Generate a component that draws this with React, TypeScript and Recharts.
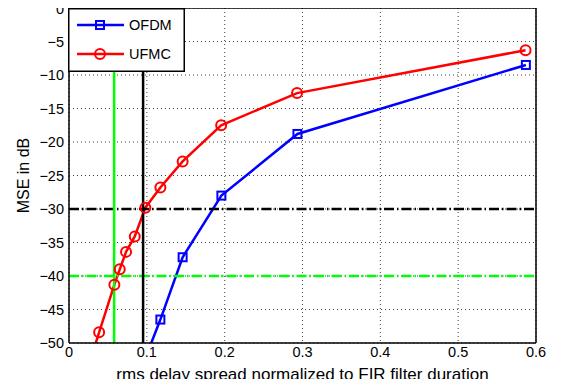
import {
  CartesianGrid,
  Label,
  Legend,
  Line,
  LineChart,
  ReferenceLine,
  XAxis,
  YAxis,
} from "recharts";

const xTicks = [0, 0.1, 0.2, 0.3, 0.4, 0.5, 0.6];
const yTicks = [-50, -45, -40, -35, -30, -25, -20, -15, -10, -5, 0];

// normalized rms delay spread
const ofdmX = [0.098, 0.1174, 0.146, 0.1958, 0.2935, 0.587];
const ofdmMse = [-52.3, -46.5, -37.2, -28.0, -18.8, -8.5];

const ufmcX = [0.03, 0.0387, 0.0583, 0.0652, 0.0733, 0.0845, 0.0981, 0.1174, 0.146, 0.1955, 0.293, 0.5866];
const ufmcMse = [-51.6, -48.4, -41.3, -39.0, -36.4, -34.1, -29.8, -26.8, -22.9, -17.5, -12.7, -6.3];

const targetMse = [-30, -40];
const targetSpread = [0.0952, 0.058];

const ofdmData = ofdmX.map((x, i) => ({ x, y: ofdmMse[i] }));
const ufmcData = ufmcX.map((x, i) => ({ x, y: ufmcMse[i] }));

const FONT = "'Liberation Sans', Arial, Helvetica, sans-serif";

const fmtY = (v: number) => (v < 0 ? "\u2212" + Math.abs(v) : String(v));
const fmtX = (v: number) => (v === 0 ? "0" : String(v));

const SquareDot = (props: any) => {
  const { cx, cy } = props;
  if (cx == null || cy == null) return null;
  return (
    <rect x={cx - 4} y={cy - 4} width={8} height={8} fill="none" stroke="#0000ff" strokeWidth={2} />
  );
};

const CircleDot = (props: any) => {
  const { cx, cy } = props;
  if (cx == null || cy == null) return null;
  return <circle cx={cx} cy={cy} r={5} fill="none" stroke="#ff0000" strokeWidth={2} />;
};

const XTick = (props: any) => {
  const { x, y, payload } = props;
  return (
    <text x={x} y={y + 10} textAnchor="middle" fontSize={14.5} fontFamily={FONT} fill="#000">
      {fmtX(payload.value)}
    </text>
  );
};

const XTitle = (props: any) => {
  const vb = props.viewBox;
  return (
    <text x={vb.x + vb.width / 2} y={vb.y + vb.height - 7} textAnchor="middle" fontSize={17} fontFamily={FONT} fill="#000">
      rms delay spread normalized to FIR filter duration
    </text>
  );
};

function LegendBox() {
  return (
    <svg width={117} height={64} style={{ display: "block", background: "#fff" }}>
      <rect x={0.75} y={0.75} width={115.5} height={62.5} fill="#fff" stroke="#000" strokeWidth={1.5} />
      <line x1={9} y1={17} x2={56} y2={17} stroke="#0000ff" strokeWidth={2.5} />
      <rect x={28} y={13} width={8} height={8} fill="none" stroke="#0000ff" strokeWidth={2} />
      <text x={61} y={22} fontSize={14.5} fontFamily={FONT} fill="#000">OFDM</text>
      <line x1={9} y1={46} x2={56} y2={46} stroke="#ff0000" strokeWidth={2.5} />
      <circle cx={32} cy={46} r={5} fill="none" stroke="#ff0000" strokeWidth={2} />
      <text x={61} y={51} fontSize={14.5} fontFamily={FONT} fill="#000">UFMC</text>
    </svg>
  );
}

export default function App() {
  return (
    <div style={{ margin: -8, width: 562, height: 387, background: "#fff", fontFamily: FONT }}>
      <LineChart width={562} height={387} margin={{ top: 8, right: 26, bottom: 0, left: 0 }}>
        <CartesianGrid stroke="#444" strokeDasharray="1 3" />
        <XAxis
          dataKey="x"
          type="number"
          domain={[0, 0.6]}
          ticks={xTicks}
          height={44}
          tickLine={false}
          tickSize={0}
          tickMargin={4}
          axisLine={{ stroke: "#000", strokeWidth: 1.5 }}
          tick={<XTick />}
          allowDataOverflow
        >
          <Label content={<XTitle />} />
        </XAxis>
        <XAxis xAxisId="btm" dataKey="x" type="number" domain={[0, 0.6]} ticks={xTicks} mirror tick={false} tickSize={5} axisLine={false} tickLine={{ stroke: "#000" }} allowDataOverflow />
        <XAxis xAxisId="top" orientation="top" dataKey="x" type="number" domain={[0, 0.6]} ticks={xTicks} mirror tick={false} tickSize={5} axisLine={{ stroke: "#000", strokeWidth: 1.5 }} tickLine={{ stroke: "#000" }} allowDataOverflow />
        <YAxis
          type="number"
          domain={[-50, 0]}
          ticks={yTicks}
          tickFormatter={fmtY}
          width={69}
          tickLine={false}
          tickSize={0}
          tickMargin={5}
          axisLine={{ stroke: "#000", strokeWidth: 1.5 }}
          tick={{ fill: "#000", fontSize: 14.5, fontFamily: FONT }}
          allowDataOverflow
          label={{
            value: "MSE in dB",
            angle: -90,
            position: "insideLeft",
            offset: 23,
            fill: "#000",
            fontSize: 16,
            fontFamily: FONT,
            style: { textAnchor: "middle" },
          }}
        />
        <YAxis yAxisId="lft" type="number" domain={[-50, 0]} ticks={yTicks} mirror tick={false} tickSize={5} axisLine={false} tickLine={{ stroke: "#000" }} allowDataOverflow width={69} />
        <YAxis yAxisId="rgt" orientation="right" type="number" domain={[-50, 0]} ticks={yTicks} mirror tick={false} tickSize={5} axisLine={{ stroke: "#000", strokeWidth: 1.5 }} tickLine={{ stroke: "#000" }} allowDataOverflow />
        <Line
          data={ofdmData}
          dataKey="y"
          stroke="#0000ff"
          strokeWidth={2.5}
          dot={<SquareDot />}
          activeDot={false}
          isAnimationActive={false}
        />
        <Line
          data={ufmcData}
          dataKey="y"
          stroke="#ff0000"
          strokeWidth={2.5}
          dot={<CircleDot />}
          activeDot={false}
          isAnimationActive={false}
        />
        <ReferenceLine y={targetMse[0]} stroke="#000" strokeWidth={2.5} strokeDasharray="10 3 1.5 3" />
        <ReferenceLine y={targetMse[1]} stroke="#00ff00" strokeWidth={2.5} strokeDasharray="10 3 1.5 3" />
        <ReferenceLine x={targetSpread[0]} stroke="#000" strokeWidth={2.5} />
        <ReferenceLine x={targetSpread[1]} stroke="#00ff00" strokeWidth={2.5} />
        <Legend
          layout="horizontal"
          verticalAlign="middle"
          align="center"
          content={() => <LegendBox />}
          wrapperStyle={{ top: 8, left: 68, width: 117, height: 64 }}
        />
      </LineChart>
    </div>
  );
}
